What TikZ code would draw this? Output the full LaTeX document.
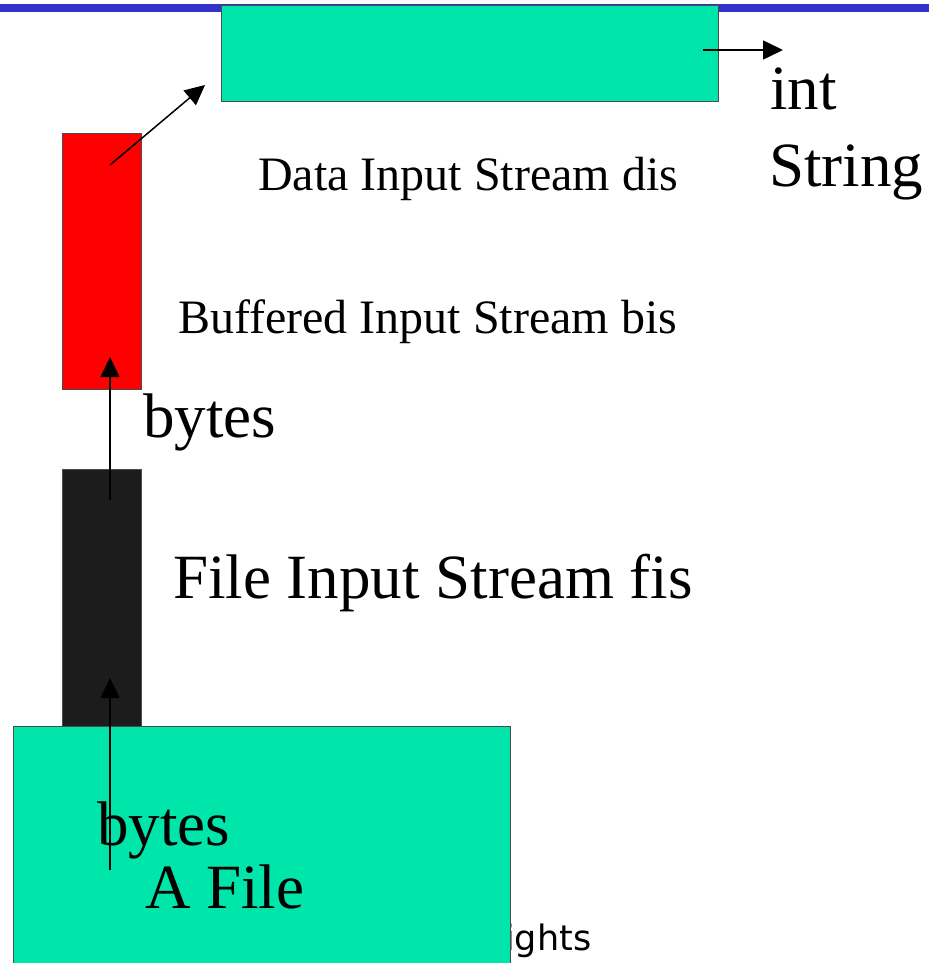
\documentclass[tikz,border=0pt]{standalone}
\usepackage{fontspec}
\setmainfont{Liberation Serif}
\newfontfamily\sansf{DejaVu Sans}
\usetikzlibrary{arrows.meta}
\definecolor{bargreen}{RGB}{0,229,170}
\definecolor{barblue}{RGB}{51,51,204}
\definecolor{darkbox}{RGB}{28,28,28}
\definecolor{redbox}{RGB}{255,0,0}
\tikzset{
  box/.style={draw=black!70, line width=0.8pt, inner sep=0pt},
  conn/.style={line width=1.5pt, -{Triangle[length=20pt,width=19pt]}},
  bigtxt/.style={anchor=base west, inner sep=0pt, font=\fontsize{63}{70}\selectfont},
  midtxt/.style={anchor=base west, inner sep=0pt, font=\fontsize{48}{56}\selectfont},
}
\begin{document}
\begin{tikzpicture}[x=1pt,y=-1pt]
\useasboundingbox (0,0) rectangle (929,963);
\fill[barblue] (0,4) rectangle (929,12);
% footer text behind box
\node[anchor=base west, inner sep=0pt, font=\sansf\fontsize{35}{40}\selectfont] (foot) at (505,950) {ights};
% boxes
\path[box, fill=bargreen] (221,5) rectangle (718,101);
\node[inner sep=0pt, minimum width=497pt, minimum height=96pt] (dis) at (469.5,53) {};
\path[box, fill=redbox] (62,133) rectangle (141,389);
\node[inner sep=0pt, minimum width=79pt, minimum height=256pt] (bis) at (101.5,261) {};
\path[box, fill=darkbox] (62,469) rectangle (141,726);
\node[inner sep=0pt, minimum width=79pt, minimum height=257pt] (fis) at (101.5,597.5) {};
\path[box, fill=bargreen] (13,726) rectangle (510,975);
\node[inner sep=0pt, minimum width=497pt, minimum height=249pt] (file) at (261.5,850) {};
% labels
\node[bigtxt] (lint) at (770,110) {int};
\node[bigtxt] (lstring) at (769,186) {String};
\node[midtxt] (ldis) at (258,190) {Data Input Stream dis};
\node[midtxt] (lbis) at (178,333) {Buffered Input Stream bis};
\node[bigtxt] (lbytes1) at (143,437) {bytes};
\node[bigtxt] (lfis) at (173,598) {File Input Stream fis};
\node[bigtxt] (lbytes2) at (97,845) {bytes};
\node[bigtxt] (lfile) at (145,908) {A File};
% connector coordinates
\coordinate (c1s) at (110,870);
\coordinate (c1e) at (110,678);
\coordinate (c2s) at (110,500);
\coordinate (c2e) at (110,357);
\coordinate (c3s) at (110,165);
\coordinate (c3e) at (205,85);
\coordinate (c4s) at (703,50);
\coordinate (c4e) at (783,50);
\draw[conn] (c1s) -- (c1e);
\draw[conn] (c2s) -- (c2e);
\draw[conn] (c3s) -- (c3e);
\draw[conn] (c4s) -- (c4e);
\end{tikzpicture}
\end{document}
